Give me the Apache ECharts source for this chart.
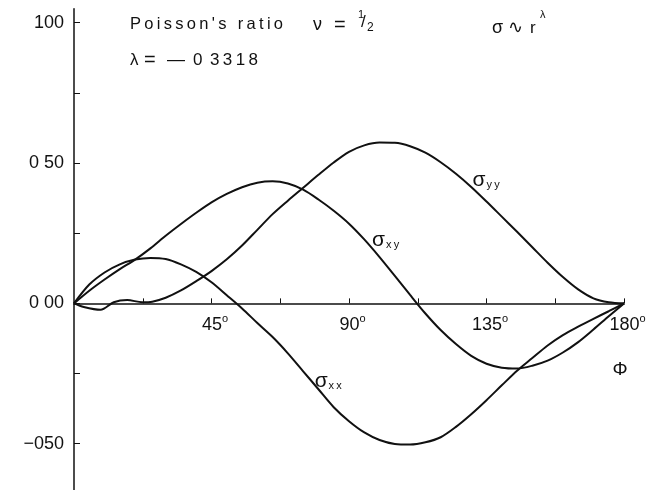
<!DOCTYPE html>
<html>
<head>
<meta charset="utf-8">
<script src="https://cdn.jsdelivr.net/npm/echarts@6/dist/echarts.min.js"></script>
<style>
  html, body { margin: 0; padding: 0; background: #fff; }
  #chart { width: 649px; height: 490px; }
</style>
</head>
<body>
<div id="chart"></div>
<script>
// Stress components around the crack tip versus the polar angle phi (degrees)
const xxAngle = [0, 5, 10, 15, 20, 25, 30, 35, 40, 45, 50, 55, 60, 65, 70, 75, 80, 85, 90, 95, 100, 105, 110, 115, 120, 125, 130, 135, 140, 145, 150, 155, 160, 165, 170, 175, 180];
const xxValue = [0, 0.067, 0.11, 0.139, 0.156, 0.162, 0.158, 0.139, 0.112, 0.075, 0.029, -0.018, -0.07, -0.12, -0.178, -0.242, -0.306, -0.37, -0.42, -0.46, -0.487, -0.501, -0.503, -0.495, -0.477, -0.44, -0.395, -0.345, -0.292, -0.24, -0.195, -0.15, -0.113, -0.083, -0.055, -0.028, 0];

const xyAngle = [0, 5, 10, 15, 20, 25, 30, 35, 40, 45, 50, 55, 60, 65, 70, 75, 80, 85, 90, 95, 100, 105, 110, 115, 120, 125, 130, 135, 140, 145, 150, 155, 160, 165, 170, 175, 180];
const xyValue = [0, 0.045, 0.085, 0.122, 0.156, 0.196, 0.241, 0.283, 0.323, 0.36, 0.39, 0.414, 0.43, 0.435, 0.427, 0.405, 0.37, 0.33, 0.284, 0.228, 0.165, 0.098, 0.03, -0.036, -0.095, -0.145, -0.187, -0.215, -0.229, -0.232, -0.222, -0.204, -0.175, -0.138, -0.093, -0.046, 0];

const yyAngle = [0, 3.2, 8.7, 13, 17.4, 22.3, 25.6, 30, 35, 40, 45, 50, 55, 60, 65, 70, 75, 80, 85, 90, 95, 100, 105, 110, 115, 120, 125, 130, 135, 140, 145, 150, 155, 160, 165, 170, 175, 180];
const yyValue = [0, -0.013, -0.023, 0.004, 0.012, 0.004, 0.006, 0.02, 0.046, 0.079, 0.115, 0.157, 0.206, 0.262, 0.318, 0.366, 0.412, 0.458, 0.502, 0.54, 0.563, 0.573, 0.572, 0.56, 0.537, 0.503, 0.462, 0.415, 0.363, 0.309, 0.255, 0.2, 0.145, 0.094, 0.05, 0.018, 0.004, 0];

// Axis ticks and labels
const xTicks = [22.5, 45, 67.5, 90, 112.5, 135, 157.5, 180];
const xLabels = [45, 90, 135, 180];
const yTicks = [-0.5, -0.25, 0, 0.25, 0.5, 0.75, 1.0];
const yLabelValues = [-0.5, 0, 0.5, 1.0];
const yLabelTexts = ['\u2212050', '0 00', '0 50', '100'];
const yMin = -0.665;
const yMax = 1.05;

// Curve name tags: [angle, value, subscript]
const xxTag = [83.2, -0.276, 'xx'];
const xyTag = [102.0, 0.226, 'xy'];
const yyTag = [134.9, 0.44, 'yy'];

const FONT = 'Liberation Sans, Arial, sans-serif';
const INK = '#111';
const W = 649, H = 490;
const GRID = { left: 74, right: 25, top: 8.7, bottom: 0 };

function pairs(a, v) { return a.map((x, i) => [x, v[i]]); }
function track(s) { return s.split('').join('\u2009'); }

function tagPoint(tag) {
  return {
    coord: [tag[0], tag[1]],
    label: {
      show: true,
      position: 'inside',
      formatter: '{s|\u03c3}{b|' + track(tag[2]) + '}',
      rich: {
        s: { fontSize: 21, fontFamily: FONT, color: INK, verticalAlign: 'middle' },
        b: { fontSize: 11, fontFamily: FONT, color: INK, verticalAlign: 'bottom', padding: [10, 0, 0, 1] }
      }
    }
  };
}

function curve(name, a, v, tag) {
  return {
    type: 'line',
    name: name,
    data: pairs(a, v),
    showSymbol: false,
    smooth: 0.3,
    lineStyle: { color: INK, width: 2 },
    z: 3,
    markPoint: {
      symbol: 'circle',
      symbolSize: 0,
      itemStyle: { color: 'transparent' },
      data: [tagPoint(tag)]
    }
  };
}

function txt(x, y, text, size, align) {
  return {
    type: 'text',
    x: x, y: y,
    style: {
      text: text,
      fontSize: size,
      fontFamily: FONT,
      fill: INK,
      textAlign: align || 'left',
      textVerticalAlign: 'middle'
    }
  };
}

// the phi axis runs along value 0 of the stress axis
const plotHeight = H - GRID.top - GRID.bottom;
const zeroLift = plotHeight * (0 - yMin) / (yMax - yMin);

const chart = echarts.init(document.getElementById('chart'), null, { renderer: 'canvas' });

chart.setOption({
  backgroundColor: '#fff',
  animation: false,
  grid: Object.assign({ containLabel: false, outerBoundsMode: 'none' }, GRID),
  xAxis: {
    type: 'value',
    min: 0,
    max: 180,
    position: 'bottom',
    offset: -zeroLift,
    axisLine: { show: true, onZero: false, lineStyle: { color: INK, width: 1.5 } },
    axisTick: { show: true, inside: true, length: 5, customValues: xTicks, lineStyle: { color: INK, width: 1 } },
    axisLabel: {
      show: true,
      customValues: xLabels,
      margin: 10,
      padding: [0, 0, 0, 7],
      formatter: v => '{n|' + v + '}{d|o}',
      rich: {
        n: { fontSize: 18, fontFamily: FONT, color: INK, verticalAlign: 'bottom' },
        d: { fontSize: 11, fontFamily: FONT, color: INK, verticalAlign: 'top', padding: [0, 0, 10, 0] }
      }
    },
    splitLine: { show: false }
  },
  yAxis: {
    type: 'value',
    min: yMin,
    max: yMax,
    axisLine: { show: true, onZero: false, lineStyle: { color: INK, width: 1.5 } },
    axisTick: { show: true, inside: true, length: 6, customValues: yTicks, lineStyle: { color: INK, width: 1 } },
    axisLabel: {
      show: true,
      customValues: yLabelValues,
      margin: 10,
      fontSize: 18,
      fontFamily: FONT,
      color: INK,
      formatter: v => {
        const i = yLabelValues.findIndex(t => Math.abs(t - v) < 1e-6);
        return i >= 0 ? yLabelTexts[i] : '';
      }
    },
    splitLine: { show: false }
  },
  series: [
    curve('\u03c3xx', xxAngle, xxValue, xxTag),
    curve('\u03c3xy', xyAngle, xyValue, xyTag),
    curve('\u03c3yy', yyAngle, yyValue, yyTag)
  ],
  graphic: [
    txt(130, 24, track("Poisson's ratio"), 16.5),
    txt(313, 25, '\u03bd', 18),
    txt(334, 25, '=', 20),
    txt(358, 15, '1', 11),
    txt(361, 22, '/', 17),
    txt(367, 28, '2', 12),
    txt(492, 28, '\u03c3', 18),
    txt(508, 28, '\u223f', 18),
    txt(530, 28, 'r', 17),
    txt(540, 15, '\u03bb', 11),
    txt(130, 60, '\u03bb', 17),
    txt(144, 60, '=', 20),
    txt(167, 60, '\u2014', 18),
    txt(193, 60, track('0'), 17),
    txt(210, 60, track('3318'), 17),
    txt(620, 370, '\u03a6', 19, 'center')
  ]
});
</script>
</body>
</html>
